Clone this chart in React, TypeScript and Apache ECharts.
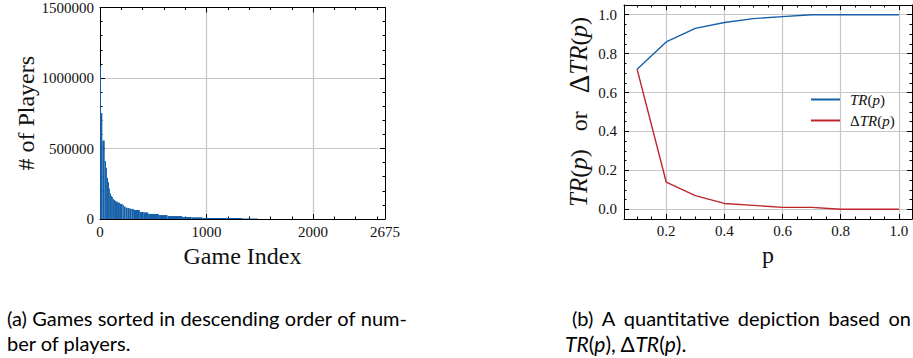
import React, { useEffect, useRef } from "react";
import * as echarts from "echarts";

// ---------- Data: (a) games sorted by number of players (binned runs of games) ----------
const binStart = [0, 9, 22, 44, 56, 65, 75, 84, 93, 103, 112, 121, 131, 140, 150, 168, 187, 212, 224, 240, 256, 274, 296, 318, 374, 411, 452, 552, 633, 773, 857, 963, 1337];
const binEnd = [9, 22, 44, 56, 65, 75, 84, 93, 103, 112, 121, 131, 140, 150, 168, 187, 212, 224, 240, 256, 274, 296, 318, 374, 411, 452, 552, 633, 773, 857, 963, 1337, 1480];
const players = [1083000, 751000, 557000, 412000, 363000, 292000, 263000, 216000, 180000, 164000, 156000, 142000, 135000, 130000, 123000, 116000, 107000, 100000, 88000, 81000, 78000, 74000, 71000, 64000, 50000, 47000, 36000, 28000, 21000, 14000, 12000, 7000, 3000];

// ---------- Data: (b) TR(p) and ΔTR(p) ----------
const pValues = [0.1, 0.2, 0.3, 0.4, 0.5, 0.6, 0.7, 0.8, 0.9, 1.0];
const trValues = [0.72, 0.86, 0.93, 0.96, 0.98, 0.99, 1.0, 1.0, 1.0, 1.0];
const dtrValues = [0.72, 0.14, 0.07, 0.03, 0.02, 0.01, 0.01, 0.0, 0.0, 0.0];

// ---------- Captions ----------
const captionA1 = ["(a)", "Games", "sorted", "in", "descending", "order", "of", "num-"];
const captionA2 = "ber of players.";
const captionB1 = ["(b)", "A", "quantitative", "depiction", "based", "on"];
const captionB2 = "{i|TR}({i|p}), Δ{i|TR}({i|p}).";

const SERIF = "Liberation Serif, serif";
const SANS = "Lato, sans-serif";
const BLUE = "#1660a9";
const RED = "#bf252b";
const GRID = "#c6c6c6";
const CAP_SIZE = 20;

function frameAxis(extra: any) {
  return {
    axisLine: { show: true, onZero: false, lineStyle: { color: "#000", width: 1 } },
    axisTick: { show: true, inside: true, length: 5, lineStyle: { color: "#000", width: 1 } },
    ...extra,
  };
}

const tickLabel = { fontFamily: SERIF, fontSize: 15, color: "#111" };

function justify(words: string[], x0: number, x1: number, font: string) {
  const ctx = document.createElement("canvas").getContext("2d");
  const widths = words.map((w) => {
    if (!ctx) return w.length * 9;
    ctx.font = font;
    return ctx.measureText(w).width;
  });
  const total = widths.reduce((a, b) => a + b, 0);
  const gap = (x1 - x0 - total) / (words.length - 1);
  let x = x0;
  return words.map((w, i) => {
    const r = { text: w, x };
    x += widths[i] + gap;
    return r;
  });
}

export default function App() {
  const ref = useRef<HTMLDivElement>(null);
  useEffect(() => {
    if (!ref.current) return;
    const chart = echarts.init(ref.current, null, { renderer: "svg" });
    const barData = players.map((v, i) => [binStart[i], binEnd[i], v]);
    const capFont = `${CAP_SIZE}px ${SANS}`;

    const capA1 = justify(captionA1, 7, 407, capFont).map((w) => ({
      type: "text", x: w.x, y: 318,
      style: { text: w.text, font: capFont, fill: "#000", verticalAlign: "middle" },
    }));
    const capB1 = justify(captionB1, 572, 911, capFont).map((w) => ({
      type: "text", x: w.x, y: 318,
      style: { text: w.text, font: capFont, fill: "#000", verticalAlign: "middle" },
    }));

    const minor = (n: number) => ({ show: true, splitNumber: n, length: 2.5, lineStyle: { color: "#000", width: 1 } });

    const option: any = {
      animation: false,
      backgroundColor: "#fff",
      grid: [
        { left: 100, top: 7, width: 285, height: 212 },
        { left: 624, top: 5, width: 288, height: 214 },
      ],
      xAxis: [
        frameAxis({
          gridIndex: 0, type: "value", position: "bottom", min: 0, max: 2675, interval: 1000,
          minorTick: minor(5),
          axisLabel: { ...tickLabel, margin: 5, formatter: (v: number) => String(v) },
          splitLine: { show: true, showMinLine: false, showMaxLine: false, lineStyle: { color: GRID, width: 1.2 } },
          name: "Game Index", nameLocation: "middle", nameGap: 15,
          nameTextStyle: { fontFamily: SERIF, fontSize: 24, color: "#111" },
        }),
        frameAxis({
          gridIndex: 0, type: "value", position: "top", min: 0, max: 2675, interval: 1000,
          minorTick: minor(5),
          axisLabel: { show: false }, splitLine: { show: false },
        }),
        frameAxis({
          gridIndex: 1, type: "value", position: "bottom", min: 0.055, max: 1.045, splitNumber: 5,
          minorTick: minor(4),
          axisLabel: { ...tickLabel, margin: 4, showMinLabel: false, showMaxLabel: false, formatter: (v: number) => v.toFixed(1) },
          splitLine: { show: true, showMinLine: false, showMaxLine: false, lineStyle: { color: GRID, width: 1.2 } },
          name: "p", nameLocation: "middle", nameGap: 17,
          nameTextStyle: { fontFamily: SERIF, fontSize: 24, color: "#111" },
        }),
        frameAxis({
          gridIndex: 1, type: "value", position: "top", min: 0.055, max: 1.045, splitNumber: 5,
          minorTick: minor(4),
          axisLabel: { show: false }, splitLine: { show: false },
        }),
      ],
      yAxis: [
        frameAxis({
          gridIndex: 0, type: "value", position: "left", min: 0, max: 1500000, interval: 500000,
          minorTick: minor(5),
          axisLabel: { ...tickLabel, margin: 6, formatter: (v: number) => String(v) },
          splitLine: { show: true, showMinLine: false, showMaxLine: false, lineStyle: { color: GRID, width: 1.2 } },
          name: "# of Players", nameLocation: "middle", nameGap: 61,
          nameTextStyle: { fontFamily: SERIF, fontSize: 24, color: "#111" },
        }),
        frameAxis({
          gridIndex: 0, type: "value", position: "right", min: 0, max: 1500000, interval: 500000,
          minorTick: minor(5),
          axisLabel: { show: false }, splitLine: { show: false },
        }),
        frameAxis({
          gridIndex: 1, type: "value", position: "left", min: -0.05, max: 1.05, splitNumber: 5,
          minorTick: minor(4),
          axisLabel: { ...tickLabel, margin: 7, showMinLabel: false, showMaxLabel: false, formatter: (v: number) => v.toFixed(1) },
          splitLine: { show: true, showMinLine: false, showMaxLine: false, lineStyle: { color: GRID, width: 1.2 } },
          name: "{i|TR}({i|p})   or   {d|Δ}{i|TR}({i|p})", nameLocation: "middle", nameGap: 31,
          nameTextStyle: {
            fontFamily: SERIF, fontSize: 24, color: "#111",
            rich: {
              i: { fontFamily: SERIF, fontSize: 25, fontStyle: "italic", color: "#111" },
              d: { fontFamily: SERIF, fontSize: 29, color: "#111" },
            },
          },
        }),
        frameAxis({
          gridIndex: 1, type: "value", position: "right", min: -0.05, max: 1.05, splitNumber: 5,
          minorTick: minor(4),
          axisLabel: { show: false }, splitLine: { show: false },
        }),
      ],
      legend: {
        data: ["TR(p)", "ΔTR(p)"],
        orient: "vertical",
        left: 806, top: 87,
        itemWidth: 29, itemHeight: 2, itemGap: 6,
        icon: "rect",
        formatter: (name: string) => (name === "TR(p)" ? "{i|TR}({i|p})" : "Δ{i|TR}({i|p})"),
        textStyle: {
          fontFamily: SERIF, fontSize: 15, color: "#111", padding: [0, 0, 0, 5],
          rich: { i: { fontFamily: SERIF, fontSize: 15, fontStyle: "italic", color: "#111" } },
        },
      },
      series: [
        {
          type: "custom", name: "players", xAxisIndex: 0, yAxisIndex: 0,
          encode: { x: [0, 1], y: 2 },
          data: barData,
          renderItem: (params: any, api: any) => {
            const p0 = api.coord([api.value(0), api.value(2)]);
            const p1 = api.coord([api.value(1), 0]);
            return {
              type: "rect",
              shape: { x: p0[0], y: p0[1], width: p1[0] - p0[0], height: p1[1] - p0[1] },
              style: { fill: BLUE },
            };
          },
        },
        {
          type: "line", name: "TR(p)", xAxisIndex: 2, yAxisIndex: 2, symbol: "none",
          data: pValues.map((p, i) => [p, trValues[i]]),
          lineStyle: { color: BLUE, width: 1.4 }, itemStyle: { color: BLUE },
        },
        {
          type: "line", name: "ΔTR(p)", xAxisIndex: 2, yAxisIndex: 2, symbol: "none",
          data: pValues.map((p, i) => [p, dtrValues[i]]),
          lineStyle: { color: RED, width: 1.4 }, itemStyle: { color: RED },
        },
      ],
      graphic: [
        ...capA1,
        {
          type: "text", x: 7, y: 343,
          style: { text: captionA2, font: capFont, fill: "#000", verticalAlign: "middle" },
        },
        ...capB1,
        {
          type: "text", x: 565, y: 343,
          style: {
            text: captionB2,
            font: `21px ${SANS}`, fill: "#000", verticalAlign: "middle",
            rich: { i: { fontFamily: SANS, fontSize: 21, fontStyle: "italic", fill: "#000" } },
          },
        },
      ],
    };
    chart.setOption(option);
    return () => chart.dispose();
  }, []);
  return <div ref={ref} style={{ position: "fixed", left: 0, top: 0, width: 913, height: 358, background: "#fff" }} />;
}
